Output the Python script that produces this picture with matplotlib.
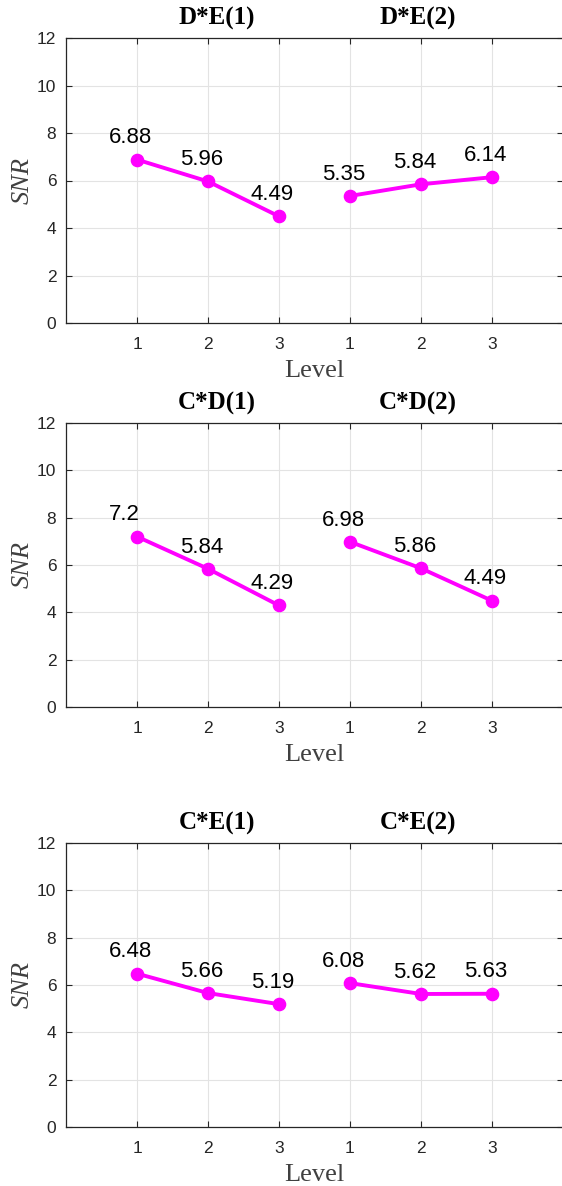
import numpy as np
import matplotlib
matplotlib.use('Agg')
import matplotlib.pyplot as plt

# data
panel_names = [('D*E(1)', 'D*E(2)'), ('C*D(1)', 'C*D(2)'), ('C*E(1)', 'C*E(2)')]
levels = [1, 2, 3]
de_1 = [6.88, 5.96, 4.49]
de_2 = [5.35, 5.84, 6.14]
cd_1 = [7.2, 5.84, 4.29]
cd_2 = [6.98, 5.86, 4.49]
ce_1 = [6.48, 5.66, 5.19]
ce_2 = [6.08, 5.62, 5.63]
label_text = [(['6.88', '5.96', '4.49'], ['5.35', '5.84', '6.14']),
              (['7.2', '5.84', '4.29'], ['6.98', '5.86', '4.49']),
              (['6.48', '5.66', '5.19'], ['6.08', '5.62', '5.63'])]
series = [(de_1, de_2), (cd_1, cd_2), (ce_1, ce_2)]
xtick_labels = ['1', '2', '3', '1', '2', '3']
yticks = [0, 2, 4, 6, 8, 10, 12]

plt.rcParams['font.family'] = ['Liberation Sans', 'DejaVu Sans']

W, H = 562, 1186
fig = plt.figure(figsize=(W / 100, H / 100), dpi=100)

# axes boxes in pixels: (top, bottom)
boxes = [(38, 323), (423, 707), (843, 1127)]
left_px, right_px = 66, 563

mag = '#ff00ff'
axcol = '#262626'

for i, (top, bot) in enumerate(boxes):
    ax = fig.add_axes([left_px / W, (H - bot) / H, (right_px - left_px) / W, (bot - top) / H])
    ax.set_xlim(0, 7)
    ax.set_ylim(0, 12)
    x1 = np.array(levels)
    x2 = np.array(levels) + 3
    s1, s2 = series[i]
    for xs, ys, labs in ((x1, s1, label_text[i][0]), (x2, s2, label_text[i][1])):
        ax.plot(xs, ys, '-o', color=mag, lw=2.8, ms=8.8, mfc=mag, mec=mag, zorder=3)
        for xv, yv, t in zip(xs, ys, labs):
            ax.text(xv - 0.4, yv + 0.92, t, ha='left', va='center', fontsize=16,
                    color='black')
    ax.set_xticks(list(x1) + list(x2))
    ax.set_xticklabels(xtick_labels)
    ax.set_yticks(yticks)
    ax.grid(True, color='#e3e3e3', lw=0.8)
    ax.set_axisbelow(True)
    ax.tick_params(direction='in', length=4, width=0.8, colors=axcol, labelsize=12.5,
                   top=True, right=True, pad=7)
    ax.tick_params(axis='x', pad=10)
    for sp in ax.spines.values():
        sp.set_color(axcol)
        sp.set_linewidth(0.9)
    ax.set_xlabel('Level', family=['Liberation Serif'], fontsize=19, color='#404040', labelpad=6)
    ax.set_ylabel('SNR', family=['Liberation Serif'], style='italic', fontsize=19,
                  color='#404040', labelpad=2)
    t1, t2 = panel_names[i]
    ax.text(2.13, 12.83, t1, ha='center', va='center', fontsize=18, fontweight='bold',
            family=['Liberation Serif'], clip_on=False)
    ax.text(4.96, 12.83, t2, ha='center', va='center', fontsize=18, fontweight='bold',
            family=['Liberation Serif'], clip_on=False)

fig.savefig('out.png', dpi=100)
